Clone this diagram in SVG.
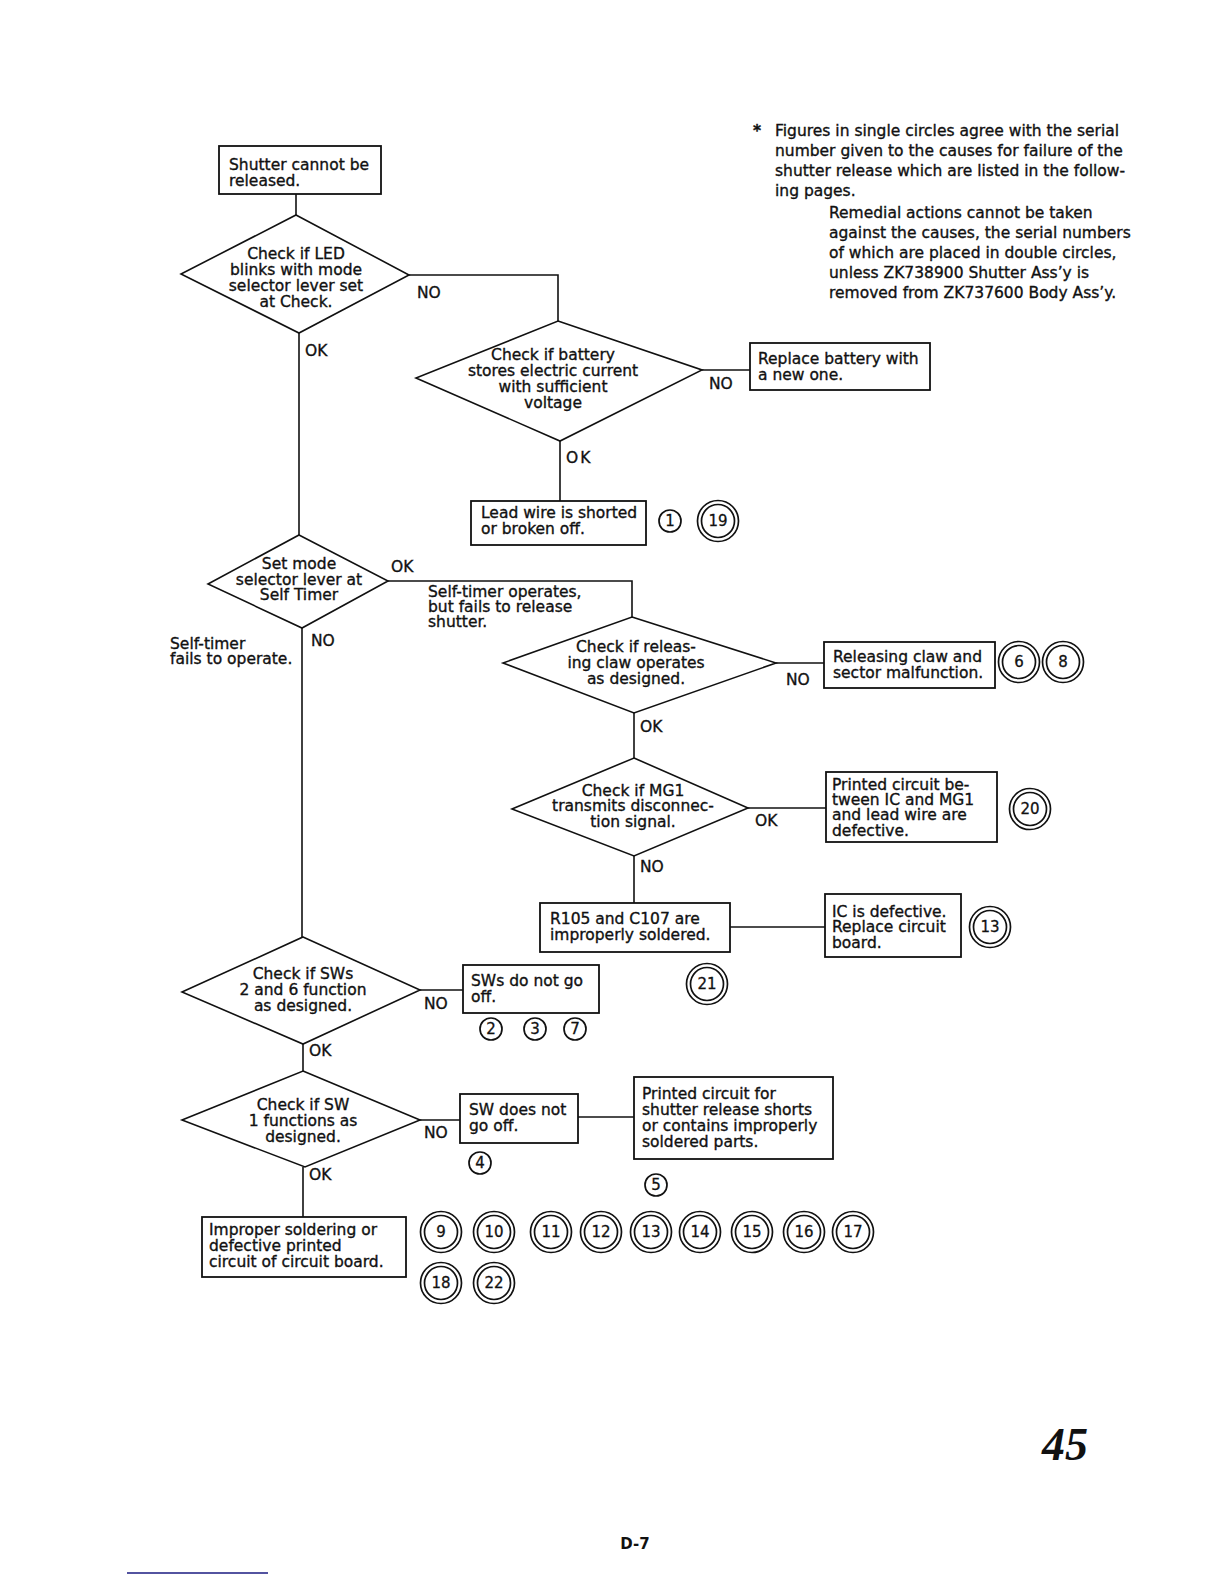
<svg xmlns="http://www.w3.org/2000/svg" width="1224" height="1584" viewBox="0 0 1224 1584">
<style>
.t{font-family:"DejaVu Sans","Liberation Sans",sans-serif;font-size:15.5px;fill:#111;stroke:#111;stroke-width:0.35}
.m{text-anchor:middle}
.box{fill:#fff;stroke:#111;stroke-width:1.8}
.dia{fill:#fff;stroke:#111;stroke-width:1.6}
.ln{fill:none;stroke:#111;stroke-width:1.6}
.c1{fill:none;stroke:#111;stroke-width:1.7}
.n{font-family:"DejaVu Sans","Liberation Sans",sans-serif;font-size:15px;fill:#111;stroke:#111;stroke-width:0.3;text-anchor:middle}
</style>
<rect width="1224" height="1584" fill="#fff"/>
<defs>
<g id="dc"><circle r="20.5" class="c1"/><circle r="16.5" class="c1"/></g>
<g id="sc"><circle r="11" class="c1"/></g>
</defs>
<g id="connectors">
<polyline class="ln" points="296,194 296,215"/>
<polyline class="ln" points="409,275 558,275 558,321"/>
<polyline class="ln" points="702,370 750,370"/>
<polyline class="ln" points="560,441 560,501"/>
<polyline class="ln" points="299,333 299,535"/>
<polyline class="ln" points="302,628 302,937"/>
<polyline class="ln" points="388,581 632,581 632,617"/>
<polyline class="ln" points="776,663 824,663"/>
<polyline class="ln" points="634,713 634,758"/>
<polyline class="ln" points="748,808 826,808"/>
<polyline class="ln" points="634,856 634,903"/>
<polyline class="ln" points="730,927 825,927"/>
<polyline class="ln" points="420,990 463,990"/>
<polyline class="ln" points="303,1044 303,1071"/>
<polyline class="ln" points="420,1120 460,1120"/>
<polyline class="ln" points="578,1117 634,1117"/>
<polyline class="ln" points="303,1167 303,1217"/>
</g>
<g id="labels">
<text class="t" x="417" y="298">NO</text>
<text class="t" x="305" y="356">OK</text>
<text class="t" x="709" y="389">NO</text>
<text class="t" x="566" y="463" letter-spacing="2">OK</text>
<text class="t" x="391" y="572">OK</text>
<text class="t" x="311" y="646">NO</text>
<text class="t" x="428" y="597">Self-timer operates,</text>
<text class="t" x="428" y="612">but fails to release</text>
<text class="t" x="428" y="627">shutter.</text>
<text class="t" x="170" y="649">Self-timer</text>
<text class="t" x="170" y="664">fails to operate.</text>
<text class="t" x="786" y="685">NO</text>
<text class="t" x="640" y="732">OK</text>
<text class="t" x="755" y="826">OK</text>
<text class="t" x="640" y="872">NO</text>
<text class="t" x="424" y="1009">NO</text>
<text class="t" x="309" y="1056">OK</text>
<text class="t" x="424" y="1138">NO</text>
<text class="t" x="309" y="1180">OK</text>
</g>
<g id="n-start">
<rect class="box" x="219" y="146" width="162" height="48"/>
<text class="t" x="229" y="170">Shutter cannot be</text>
<text class="t" x="229" y="186">released.</text>
</g>
<g id="d-led">
<polygon class="dia" points="296,215 409,275 299,333 181,274"/>
<text class="t m" x="296" y="259">Check if LED</text>
<text class="t m" x="296" y="275">blinks with mode</text>
<text class="t m" x="296" y="291">selector lever set</text>
<text class="t m" x="296" y="307">at Check.</text>
</g>
<g id="d-battery">
<polygon class="dia" points="558,321 702,370 560,441 416,378"/>
<text class="t m" x="553" y="360">Check if battery</text>
<text class="t m" x="553" y="376">stores electric current</text>
<text class="t m" x="553" y="392">with sufficient</text>
<text class="t m" x="553" y="408">voltage</text>
</g>
<g id="n-battery">
<rect class="box" x="750" y="343" width="180" height="47"/>
<text class="t" x="758" y="364">Replace battery with</text>
<text class="t" x="758" y="380">a new one.</text>
</g>
<g id="n-lead">
<rect class="box" x="471" y="501" width="175" height="44"/>
<text class="t" x="481" y="518">Lead wire is shorted</text>
<text class="t" x="481" y="534">or broken off.</text>
<use href="#sc" x="670" y="521"/><text class="n" x="670" y="526">1</text>
<use href="#dc" x="718" y="521"/><text class="n" x="718" y="526">19</text>
</g>
<g id="d-selftimer">
<polygon class="dia" points="299,535 388,581 302,628 208,584"/>
<text class="t m" x="299" y="569">Set mode</text>
<text class="t m" x="299" y="585">selector lever at</text>
<text class="t m" x="299" y="600">Self Timer</text>
</g>
<g id="d-claw">
<polygon class="dia" points="632,617 776,663 634,713 503,663"/>
<text class="t m" x="636" y="652">Check if releas-</text>
<text class="t m" x="636" y="668">ing claw operates</text>
<text class="t m" x="636" y="684">as designed.</text>
</g>
<g id="n-claw">
<rect class="box" x="824" y="642" width="171" height="46"/>
<text class="t" x="833" y="662">Releasing claw and</text>
<text class="t" x="833" y="678">sector malfunction.</text>
<use href="#dc" x="1019" y="662"/><text class="n" x="1019" y="667">6</text>
<use href="#dc" x="1063" y="662"/><text class="n" x="1063" y="667">8</text>
</g>
<g id="d-mg1">
<polygon class="dia" points="634,758 748,808 634,856 512,809"/>
<text class="t m" x="633" y="796">Check if MG1</text>
<text class="t m" x="633" y="811">transmits disconnec-</text>
<text class="t m" x="633" y="827">tion signal.</text>
</g>
<g id="n-mg1">
<rect class="box" x="826" y="772" width="171" height="70"/>
<text class="t" x="832" y="790">Printed circuit be-</text>
<text class="t" x="832" y="805">tween IC and MG1</text>
<text class="t" x="832" y="820">and lead wire are</text>
<text class="t" x="832" y="836">defective.</text>
<use href="#dc" x="1030" y="809"/><text class="n" x="1030" y="814">20</text>
</g>
<g id="n-r105">
<rect class="box" x="540" y="903" width="190" height="49"/>
<text class="t" x="550" y="924">R105 and C107 are</text>
<text class="t" x="550" y="940">improperly soldered.</text>
<use href="#dc" x="707" y="984"/><text class="n" x="707" y="989">21</text>
</g>
<g id="n-ic">
<rect class="box" x="825" y="894" width="136" height="63"/>
<text class="t" x="832" y="917">IC is defective.</text>
<text class="t" x="832" y="932">Replace circuit</text>
<text class="t" x="832" y="948">board.</text>
<use href="#dc" x="990" y="927"/><text class="n" x="990" y="932">13</text>
</g>
<g id="d-sw26">
<polygon class="dia" points="303,937 420,990 303,1044 182,992"/>
<text class="t m" x="303" y="979">Check if SWs</text>
<text class="t m" x="303" y="995">2 and 6 function</text>
<text class="t m" x="303" y="1011">as designed.</text>
</g>
<g id="n-sw26">
<rect class="box" x="463" y="965" width="136" height="48"/>
<text class="t" x="471" y="986">SWs do not go</text>
<text class="t" x="471" y="1002">off.</text>
<use href="#sc" x="491" y="1029"/><text class="n" x="491" y="1034">2</text>
<use href="#sc" x="535" y="1029"/><text class="n" x="535" y="1034">3</text>
<use href="#sc" x="575" y="1029"/><text class="n" x="575" y="1034">7</text>
</g>
<g id="d-sw1">
<polygon class="dia" points="303,1071 420,1120 305,1167 182,1120"/>
<text class="t m" x="303" y="1110">Check if SW</text>
<text class="t m" x="303" y="1126">1 functions as</text>
<text class="t m" x="303" y="1142">designed.</text>
</g>
<g id="n-sw1">
<rect class="box" x="460" y="1094" width="118" height="49"/>
<text class="t" x="469" y="1115">SW does not</text>
<text class="t" x="469" y="1131">go off.</text>
<use href="#sc" x="480" y="1163"/><text class="n" x="480" y="1168">4</text>
</g>
<g id="n-printed">
<rect class="box" x="634" y="1077" width="199" height="82"/>
<text class="t" x="642" y="1099">Printed circuit for</text>
<text class="t" x="642" y="1115">shutter release shorts</text>
<text class="t" x="642" y="1131">or contains improperly</text>
<text class="t" x="642" y="1147">soldered parts.</text>
<use href="#sc" x="656" y="1185"/><text class="n" x="656" y="1190">5</text>
</g>
<g id="n-improper">
<rect class="box" x="202" y="1217" width="204" height="60"/>
<text class="t" x="209" y="1235">Improper soldering or</text>
<text class="t" x="209" y="1251">defective printed</text>
<text class="t" x="209" y="1267">circuit of circuit board.</text>
<use href="#dc" x="441" y="1232"/><text class="n" x="441" y="1237">9</text>
<use href="#dc" x="494" y="1232"/><text class="n" x="494" y="1237">10</text>
<use href="#dc" x="551" y="1232"/><text class="n" x="551" y="1237">11</text>
<use href="#dc" x="601" y="1232"/><text class="n" x="601" y="1237">12</text>
<use href="#dc" x="651" y="1232"/><text class="n" x="651" y="1237">13</text>
<use href="#dc" x="700" y="1232"/><text class="n" x="700" y="1237">14</text>
<use href="#dc" x="752" y="1232"/><text class="n" x="752" y="1237">15</text>
<use href="#dc" x="804" y="1232"/><text class="n" x="804" y="1237">16</text>
<use href="#dc" x="853" y="1232"/><text class="n" x="853" y="1237">17</text>
<use href="#dc" x="441" y="1283"/><text class="n" x="441" y="1288">18</text>
<use href="#dc" x="494" y="1283"/><text class="n" x="494" y="1288">22</text>
</g>
<g id="note">
<text class="t" x="753" y="136" font-weight="bold">*</text>
<text class="t" x="775" y="136">Figures in single circles agree with the serial</text>
<text class="t" x="775" y="156">number given to the causes for failure of the</text>
<text class="t" x="775" y="176">shutter release which are listed in the follow-</text>
<text class="t" x="775" y="196">ing pages.</text>
<text class="t" x="829" y="218">Remedial actions cannot be taken</text>
<text class="t" x="829" y="238">against the causes, the serial numbers</text>
<text class="t" x="829" y="258">of which are placed in double circles,</text>
<text class="t" x="829" y="278">unless ZK738900 Shutter Ass’y is</text>
<text class="t" x="829" y="298">removed from ZK737600 Body Ass’y.</text>
</g>
<g id="page">
<text x="1042" y="1460" font-family="Liberation Serif, serif" font-size="46" font-style="italic" font-weight="bold" fill="#111">45</text>
<text x="635" y="1549" font-family="DejaVu Sans, sans-serif" font-size="15" font-weight="bold" text-anchor="middle" fill="#111">D-7</text>
<line x1="127" y1="1573" x2="268" y2="1573" stroke="#1a1a80" stroke-width="1.5"/>
</g>
</svg>
